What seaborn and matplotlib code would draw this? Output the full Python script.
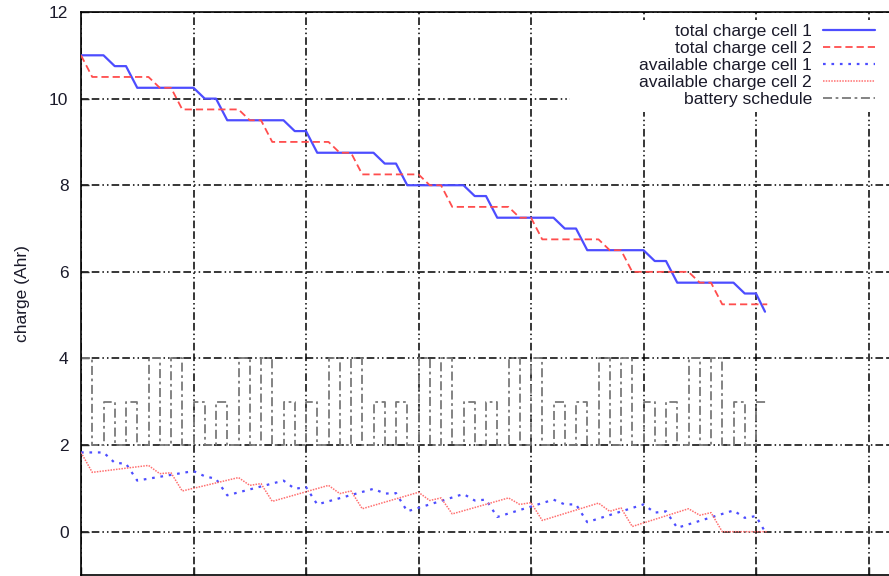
import numpy as np
import pandas as pd
import matplotlib
matplotlib.use("Agg")
import matplotlib.pyplot as plt
import seaborn as sns
from matplotlib.patches import Rectangle
from matplotlib.lines import Line2D

# ---------------- data ----------------
# total charge, cell 1
tc1_t = [0, 10, 15, 20, 25, 50, 55, 60, 65, 90, 95, 100, 105, 130, 135, 140, 145,
         170, 175, 180, 185, 210, 215, 220, 225, 250, 255, 260, 265, 290, 295, 300, 304]
tc1_v = [11.0, 11.0, 10.75, 10.75, 10.25, 10.25, 10.0, 10.0, 9.5, 9.5, 9.25, 9.25, 8.75,
         8.75, 8.5, 8.5, 8.0, 8.0, 7.75, 7.75, 7.25, 7.25, 7.0, 7.0, 6.5, 6.5, 6.25, 6.25,
         5.75, 5.75, 5.5, 5.5, 5.08]
# total charge, cell 2
tc2_t = [0, 5, 30, 35, 40, 45, 70, 75, 80, 85, 110, 115, 120, 125, 150, 155, 160, 165,
         190, 195, 200, 205, 230, 235, 240, 245, 270, 275, 280, 285, 305]
tc2_v = [11.0, 10.5, 10.5, 10.25, 10.25, 9.75, 9.75, 9.5, 9.5, 9.0, 9.0, 8.75, 8.75, 8.25,
         8.25, 8.0, 8.0, 7.5, 7.5, 7.25, 7.25, 6.75, 6.75, 6.5, 6.5, 6.0, 6.0, 5.75, 5.75,
         5.25, 5.25]
# available charge, cell 1 (same time points as tc1)
ac1_v = [1.83, 1.83, 1.59, 1.57, 1.18, 1.40, 1.28, 1.22, 0.84, 1.18, 0.99, 1.03, 0.63,
         0.99, 0.88, 0.89, 0.47, 0.87, 0.72, 0.74, 0.34, 0.74, 0.63, 0.63, 0.22, 0.63,
         0.44, 0.47, 0.09, 0.49, 0.32, 0.36, 0.0]
# available charge, cell 2 (same time points as tc2)
ac2_v = [1.83, 1.37, 1.53, 1.34, 1.36, 0.94, 1.25, 1.07, 1.11, 0.70, 1.07, 0.88, 0.94,
         0.53, 0.91, 0.72, 0.78, 0.41, 0.78, 0.63, 0.67, 0.26, 0.66, 0.47, 0.55, 0.12,
         0.53, 0.38, 0.44, 0.0, 0.0]
# battery schedule: job start times and load levels (baseline 2, job length 5)
job_start = [0, 10, 20, 30, 40, 50, 60, 70, 80, 90, 100, 110, 120, 130, 140, 150,
             160, 170, 180, 190, 200, 210, 220, 230, 240, 250, 260, 270, 280, 290, 300]
job_level = [4, 3, 3, 4, 4, 3, 3, 4, 4, 3, 3, 4, 4, 3, 3, 4,
             4, 3, 3, 4, 4, 3, 3, 4, 4, 3, 3, 4, 4, 3, 3]
job_len = 5
sched_base = 2

y_ticks = [0, 2, 4, 6, 8, 10, 12]
x_grid = [0, 50, 100, 150, 200, 250, 300, 350]

# build schedule step path
sx, sy = [], []
for i, (s, lv) in enumerate(zip(job_start, job_level)):
    if i > 0:
        sx += [s]
        sy += [sched_base]
    sx += [s, s + job_len]
    sy += [lv, lv]
    if i < len(job_start) - 1:
        sx += [s + job_len]
        sy += [sched_base]

# ---------------- figure ----------------
sns.set_theme(style="white")
plt.rcParams["font.family"] = ["Liberation Sans", "DejaVu Sans"]

W, H = 889, 576
fig = plt.figure(figsize=(W / 100, H / 100), dpi=100)
ax = fig.add_axes([81 / W, 1 / H, 1 - 81 / W, (575 - 12) / H])

blue = "#4d4dff"
red = "#ff4d4d"

sns.lineplot(x=tc1_t, y=tc1_v, ax=ax, color=blue, lw=1.6, estimator=None, sort=False, zorder=3)
sns.lineplot(x=tc2_t, y=tc2_v, ax=ax, color=red, lw=1.3, estimator=None, sort=False,
             linestyle=(0, (4, 2.2)), zorder=3)
sns.lineplot(x=tc1_t, y=ac1_v, ax=ax, color=blue, lw=1.6, estimator=None, sort=False,
             linestyle=(0, (1.2, 2.6)), zorder=3)
sns.lineplot(x=tc2_t, y=ac2_v, ax=ax, color="#ff7070", lw=1.1, estimator=None, sort=False,
             linestyle=(0, (1, 0.8)), zorder=3)
sns.lineplot(x=sx, y=sy, ax=ax, color="#7a7a7a", lw=1.3, estimator=None, sort=False,
             linestyle=(0, (5, 2, 1.5, 2)), zorder=2.5)

ax.set_xlim(0, (W - 81) / 2.25)
ax.set_ylim(-1, 12)
ax.set_yticks(y_ticks)
ax.set_xticks(x_grid)
ax.set_xticklabels([])
ax.set_xlabel("")
ax.tick_params(axis="y", direction="in", length=6, width=1, pad=9, labelsize=12.5,
               labelcolor="#1a1a2a", left=True)
ax.tick_params(axis="x", direction="in", length=6, width=1, bottom=True)

ax.set_axisbelow(True)
ax.grid(True, color="black", lw=1.1, linestyle=(0, (5, 2, 5, 2, 1, 2, 1, 2)))

for sp in ["left", "top", "bottom"]:
    ax.spines[sp].set_visible(True)
    ax.spines[sp].set_color("black")
    ax.spines[sp].set_linewidth(1.2)
ax.spines["right"].set_visible(False)

ax.set_ylabel("charge (Ahr)", fontsize=12.5, color="#1a1a2a")
ax.yaxis.label.set_va("center")
ax.yaxis.set_label_coords((22 - 81) / (W - 81), 0.5)

# key box (opaque, clears grid behind the key)
ax.add_patch(Rectangle((570 / W, 1 - 112 / H), (W - 570) / W, (112 - 20) / H,
                       transform=fig.transFigure, facecolor="white", edgecolor="none",
                       zorder=1.5, clip_on=False))

handles = [
    Line2D([], [], color=blue, lw=1.6),
    Line2D([], [], color=red, lw=1.3, linestyle=(0, (4, 2.2))),
    Line2D([], [], color=blue, lw=1.6, linestyle=(0, (1.2, 2.6))),
    Line2D([], [], color="#ff7070", lw=1.1, linestyle=(0, (1, 0.8))),
    Line2D([], [], color="#7a7a7a", lw=1.3, linestyle=(0, (5, 2, 1.5, 2))),
]
labels = ["total charge cell 1", "total charge cell 2", "available charge cell 1",
          "available charge cell 2", "battery schedule"]
leg = ax.legend(handles, labels, loc="upper right", bbox_to_anchor=(875 / W, 1 - 24 / H),
                bbox_transform=fig.transFigure, frameon=False, markerfirst=False,
                borderpad=0, borderaxespad=0, handlelength=3.0, handletextpad=0.6,
                labelspacing=0.1, fontsize=12.6)
for t in leg.get_texts():
    t.set_color("#1a1a2a")
leg.set_zorder(5)

fig.savefig("out.png", dpi=100)
